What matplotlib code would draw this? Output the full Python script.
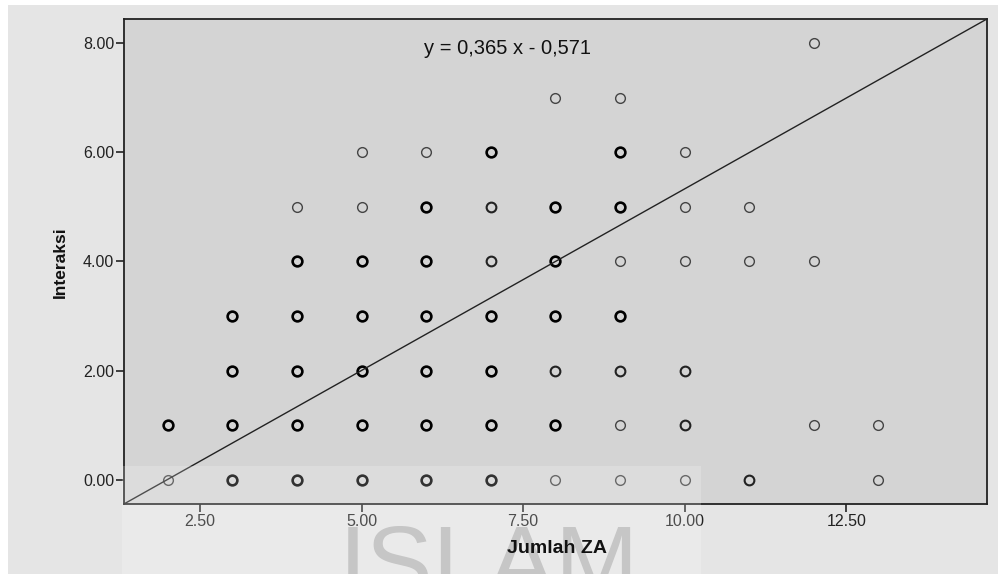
import numpy as np
import matplotlib.pyplot as plt
from matplotlib.patches import Rectangle

plt.rcParams['font.family'] = ['Liberation Sans', 'DejaVu Sans']

# Jumlah ZA (x) vs Interaksi (y); n = how many cases overlap at that point
jumlah_za = [2, 2,
             3, 3, 3, 3,
             4, 4, 4, 4, 4, 4,
             5, 5, 5, 5, 5, 5, 5,
             6, 6, 6, 6, 6, 6, 6,
             7, 7, 7, 7, 7, 7, 7,
             8, 8, 8, 8, 8, 8, 8,
             9, 9, 9, 9, 9, 9, 9, 9,
             10, 10, 10, 10, 10, 10,
             11, 11, 11,
             12, 12, 12,
             13, 13]
interaksi = [0, 1,
             0, 1, 2, 3,
             0, 1, 2, 3, 4, 5,
             0, 1, 2, 3, 4, 5, 6,
             0, 1, 2, 3, 4, 5, 6,
             0, 1, 2, 3, 4, 5, 6,
             0, 1, 2, 3, 4, 5, 7,
             0, 1, 2, 3, 4, 5, 6, 7,
             0, 1, 2, 4, 5, 6,
             0, 4, 5,
             1, 4, 8,
             0, 1]
n_cases = [1, 3,
           3, 3, 3, 3,
           3, 3, 3, 3, 3, 1,
           3, 3, 3, 3, 3, 1, 1,
           3, 3, 3, 3, 3, 3, 1,
           3, 3, 3, 3, 2, 2, 3,
           1, 3, 2, 3, 3, 3, 1,
           1, 1, 2, 3, 1, 3, 3, 1,
           1, 2, 2, 1, 1, 1,
           2, 1, 1,
           1, 1, 1,
           1, 1]

x_ticks = [2.5, 5.0, 7.5, 10.0, 12.5]
y_ticks = [0, 2, 4, 6, 8]
x_lim = (1.32, 14.68)
y_lim = (-0.44, 8.44)
equation = "y = 0,365 x - 0,571"

fig = plt.figure(figsize=(9.98, 5.74), dpi=100, facecolor='#e5e5e5')
ax = fig.add_axes([0.1242, 0.122, 0.8648, 0.845])
ax.set_facecolor('#d4d4d4')

# white scan margins at top and left
fig.add_artist(Rectangle((0, 0.991), 1, 0.009, transform=fig.transFigure,
                         facecolor='white', edgecolor='none', zorder=-2))
fig.add_artist(Rectangle((0, 0), 0.008, 1, transform=fig.transFigure,
                         facecolor='white', edgecolor='none', zorder=-2))

edge_w = {1: 1.0, 2: 1.5, 3: 1.9}
edge_c = {1: '#444444', 2: '#222222', 3: '#000000'}
for xv, yv, n in zip(jumlah_za, interaksi, n_cases):
    ax.plot(xv, yv, 'o', ms=7, mfc='none', mec=edge_c[n], mew=edge_w[n], zorder=3)

# fit line as drawn in the source (corner to corner)
ax.plot([0, 1], [0, 1], transform=ax.transAxes, color='#222222', lw=1.0, zorder=4)

ax.set_xlim(*x_lim)
ax.set_ylim(*y_lim)
ax.set_xticks(x_ticks)
ax.set_xticklabels(["%.2f" % v for v in x_ticks])
ax.set_yticks(y_ticks)
ax.set_yticklabels(["%.2f" % v for v in y_ticks])
ax.tick_params(direction='out', length=6, width=1.2, color='#222222',
               labelsize=11.5, labelcolor='#222222', pad=1)
for s in ax.spines.values():
    s.set_linewidth(1.3)
    s.set_color('#222222')

ax.text(0.444, 0.94, equation, transform=ax.transAxes, ha='center', va='center',
        fontsize=14.5, color='#111111')

# faint watermark from the scanned page, behind everything else
fig.text(0.49, 0.088, "ISLAM", ha='center', va='top', fontsize=72,
         color='#b8b8b8', zorder=-1)
fig.add_artist(Rectangle((0.122, 0), 0.58, 0.188, transform=fig.transFigure,
                         facecolor='white', alpha=0.2, edgecolor='none', zorder=5))

fig.text(0.558, 0.045, "Jumlah ZA", ha='center', va='center', fontsize=14,
         fontweight='bold', color='#111111', zorder=6)
fig.text(0.06, 0.543, "Interaksi", ha='center', va='center', rotation=90,
         fontsize=12.5, fontweight='bold', color='#111111')

fig.savefig('out.png', dpi=100, facecolor=fig.get_facecolor())
